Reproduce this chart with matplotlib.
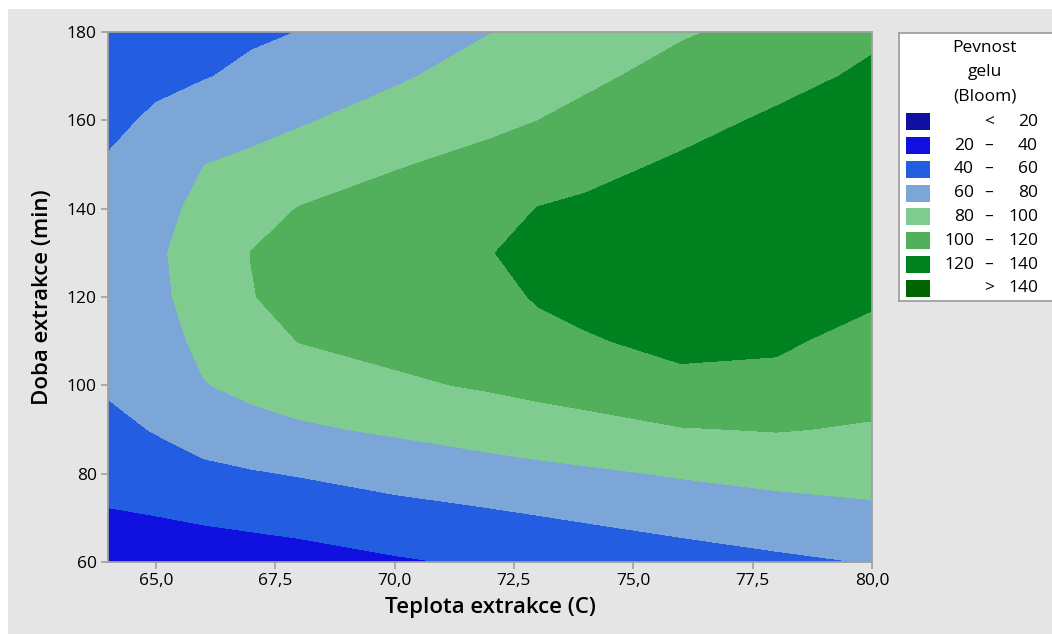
import numpy as np
import matplotlib
matplotlib.use("Agg")
import matplotlib.pyplot as plt
from matplotlib.patches import Rectangle
from matplotlib.ticker import FuncFormatter

# mrizka: teplota (C) x doba (min)
teplota = [64, 65, 66, 67, 68, 70, 72, 73, 74, 76, 78, 80]
doba = [60, 70, 80, 90, 100, 110, 120, 130, 140, 150, 160, 170, 180]
# radky = doba, sloupce = teplota
pevnost = [
    [31.0, 31.0, 30.5, 31.5, 33.0, 37.9, 42.4, 43.6, 46.4, 51.7, 56.5, 60.7],
    [38.1, 39.5, 41.8, 43.9, 46.1, 52.1, 56.5, 59.1, 61.7, 66.6, 70.9, 74.9],
    [46.3, 50.4, 55.9, 58.4, 61.1, 67.0, 72.2, 74.6, 76.9, 81.7, 85.7, 87.2],
    [54.5, 61.2, 68.0, 73.9, 77.3, 82.6, 88.5, 91.7, 94.2, 99.0, 100.9, 98.3],
    [62.5, 67.5, 79.2, 84.5, 89.3, 97.1, 102.0, 104.8, 107.2, 116.5, 116.0, 106.9],
    [66.0, 72.5, 84.0, 91.9, 100.4, 105.1, 108.2, 114.5, 118.7, 123.6, 122.2, 115.1],
    [69.0, 76.0, 87.5, 99.3, 105.5, 111.5, 114.4, 121.5, 124.0, 128.8, 126.9, 122.2],
    [69.5, 77.0, 89.0, 100.3, 107.5, 115.8, 119.5, 124.0, 127.8, 132.8, 131.5, 127.7],
    [66.0, 74.5, 84.5, 92.8, 100.6, 106.5, 112.6, 120.4, 122.5, 127.0, 133.5, 133.2],
    [61.2, 69.5, 79.8, 83.7, 89.1, 98.8, 104.7, 110.5, 115.4, 122.1, 127.4, 133.3],
    [56.9, 62.0, 69.4, 74.0, 78.1, 87.9, 96.5, 99.9, 105.2, 115.1, 122.3, 127.9],
    [52.4, 57.0, 59.0, 63.5, 69.0, 77.4, 88.1, 92.5, 96.1, 106.6, 115.1, 122.6],
    [48.0, 53.0, 55.0, 57.5, 60.2, 68.5, 79.6, 84.3, 89.0, 98.1, 106.0, 117.2],
]
hladiny = [20, 40, 60, 80, 100, 120, 140]
barvy = ['#0f0fa0', '#1010e0', '#235ee2', '#7ca6d8',
         '#80cc90', '#52b05c', '#008220', '#006400']

plt.rcParams['font.family'] = ['Open Sans', 'DejaVu Sans']
SEDA = '#a0a0a0'

fig = plt.figure(figsize=(10.52, 6.34), dpi=100, facecolor='white')
fig.patches.append(Rectangle((8 / 1052, 0), 1, 625 / 634, transform=fig.transFigure,
                             facecolor='#e5e5e5', edgecolor='none', zorder=-10))

ax = fig.add_axes([108 / 1052, 72 / 634, 764 / 1052, 530 / 634])
X, Y = np.meshgrid(teplota, doba)
ax.contourf(X, Y, np.array(pevnost), levels=[0] + hladiny + [200], colors=barvy)
ax.set_xlim(64, 80)
ax.set_ylim(60, 180)
ax.set_xticks([65, 67.5, 70, 72.5, 75, 77.5, 80])
ax.set_yticks([60, 80, 100, 120, 140, 160, 180])
ax.xaxis.set_major_formatter(FuncFormatter(lambda v, p: f"{v:.1f}".replace('.', ',')))
ax.tick_params(direction='out', length=5, width=1.2, color=SEDA, labelsize=12.5, pad=3)
for s in ax.spines.values():
    s.set_color(SEDA)
    s.set_linewidth(1.3)
ax.set_xlabel('Teplota extrakce (C)', fontsize=16, fontweight='semibold', labelpad=6)
ax.set_ylabel('Doba extrakce (min)', fontsize=16, fontweight='semibold', labelpad=10)

# legenda
lax = fig.add_axes([899 / 1052, (634 - 301) / 634, (1062 - 899) / 1052, 268 / 634])
lax.set_xlim(899, 1062)
lax.set_ylim(301, 33)
lax.set_xticks([])
lax.set_yticks([])
for s in lax.spines.values():
    s.set_color(SEDA)
    s.set_linewidth(1.3)
for i, radek in enumerate(['Pevnost', 'gelu', '(Bloom)']):
    lax.text(985, 48 + i * 24.3, radek, ha='center', va='center', fontsize=12.5)
for i, barva in enumerate(barvy):
    yc = 121.7 + i * 23.8
    lax.add_patch(Rectangle((906, yc - 8.5), 24, 17, facecolor=barva, edgecolor='none'))
    if i == 0:
        lax.text(989, yc, '<', ha='center', va='center', fontsize=12.5)
        lax.text(1038, yc, str(hladiny[0]), ha='right', va='center', fontsize=12.5)
    elif i == len(barvy) - 1:
        lax.text(989, yc, '>', ha='center', va='center', fontsize=12.5)
        lax.text(1038, yc, str(hladiny[-1]), ha='right', va='center', fontsize=12.5)
    else:
        lax.text(974, yc, str(hladiny[i - 1]), ha='right', va='center', fontsize=12.5)
        lax.text(989, yc, '–', ha='center', va='center', fontsize=12.5)
        lax.text(1038, yc, str(hladiny[i]), ha='right', va='center', fontsize=12.5)

fig.savefig('out.png', dpi=100, facecolor=fig.get_facecolor())
